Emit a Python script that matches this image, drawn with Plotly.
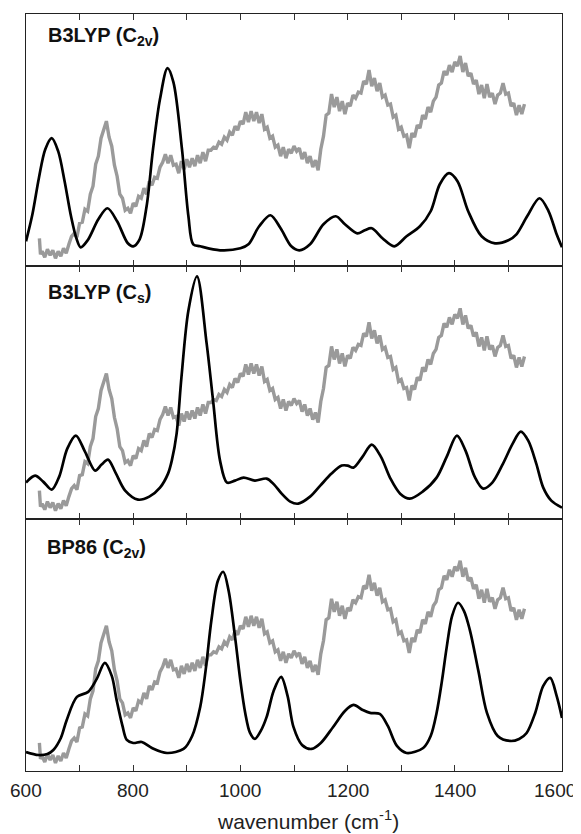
import plotly.graph_objects as go
from plotly.subplots import make_subplots

# Experimental spectrum (same in all panels), wavenumber / intensity (arb.)
exp_wn = [625, 627] + list(range(630, 1531, 5))
exp_int = [28, 12,
           15, 9, 17, 11, 16, 8, 15, 10, 18, 13, 22,
           30, 33, 29, 43, 44, 57, 55, 72, 80, 102, 110, 128, 136, 145,
           129, 120, 101, 90, 72, 68, 56, 58, 53, 63,
           60, 70, 68, 78, 72, 85, 81, 89, 88, 99,
           104, 112, 103, 111, 101, 102, 93, 105, 97, 107,
           99, 108, 100, 111, 103, 114, 105, 116, 116, 119,
           118, 124, 122, 129, 126, 134, 131, 140, 136, 145,
           142, 154, 144, 155, 145, 154, 143, 152, 137, 139,
           128, 130, 119, 121, 110, 119, 108, 117, 113, 120,
           115, 118, 107, 114, 103, 110, 99, 106, 96, 117,
           130, 151, 153, 172, 159, 169, 155, 165, 152, 163,
           160, 171, 168, 174, 173, 185, 182, 196, 180, 188,
           175, 183, 169, 171, 161, 162, 149, 151, 137, 139,
           130, 131, 118, 133, 129, 141, 138, 151, 147, 159,
           154, 165, 169, 181, 183, 195, 191, 201, 194, 204,
           200, 210, 194, 203, 190, 193, 182, 186, 172, 181,
           168, 182, 169, 173, 162, 171, 173, 183, 172, 173,
           160, 163, 151, 161, 152, 162]

# Calculated spectra
c2v_wn = [600, 612, 624, 636, 648, 660, 672, 684, 694, 702, 715, 735, 752, 770, 790, 800,
          812, 825, 837, 850, 864, 875, 891, 903, 912, 925, 962, 1000, 1015, 1035, 1056,
          1075, 1095, 1110, 1130, 1155, 1178, 1195, 1218, 1232, 1245, 1265, 1287, 1310,
          1335, 1355, 1372, 1389, 1405, 1425, 1450, 1475, 1500, 1515, 1535, 1558, 1575,
          1590, 1600]
c2v_int = [25, 52, 88, 117, 128, 115, 85, 50, 28, 19, 26, 47, 58, 45, 23, 20,
           27, 60, 117, 167, 198, 184, 117, 50, 22, 20, 16, 18, 22, 40, 51,
           38, 20, 16, 22, 42, 50, 42, 33, 36, 38, 28, 20, 30,
           40, 55, 82, 93, 85, 55, 30, 23, 26, 32, 50, 68, 55,
           32, 19]

cs_wn = [600, 617, 632, 648, 662, 677, 693, 710, 729, 741, 753, 767, 785, 809, 830, 850,
         865, 872, 881, 890, 903, 919, 937, 949, 962, 975, 990, 1006, 1027, 1049, 1063,
         1077, 1093, 1108, 1130, 1149, 1170, 1189, 1200, 1211, 1228, 1245, 1262, 1280,
         1298, 1316, 1340, 1366, 1385, 1404, 1420, 1437, 1453, 1470, 1490, 1508, 1523,
         1537, 1552, 1565, 1580, 1600]
cs_int = [36, 43, 37, 29, 42, 70, 83, 67, 48, 54, 59, 46, 28, 19, 22, 31,
          45, 58, 85, 141, 208, 242, 175, 118, 58, 36, 38, 41, 38, 40, 34,
          25, 17, 15, 22, 33, 45, 53, 53, 51, 62, 74, 62, 40,
          25, 20, 27, 41, 62, 83, 68, 42, 30, 36, 55, 75, 87,
          78, 55, 31, 18, 11]

bp86_wn = [600, 623, 640, 651, 665, 676, 695, 716, 732, 747, 760, 769, 780, 788, 800, 816,
           835, 863, 894, 910, 925, 935, 946, 958, 968, 978, 990, 1000, 1009, 1018, 1027,
           1038, 1049, 1062, 1076, 1088, 1099, 1115, 1133, 1150, 1173, 1195, 1211, 1228,
           1242, 1260, 1275, 1292, 1310, 1341, 1355, 1366, 1376, 1385, 1395, 1406, 1417,
           1428, 1444, 1460, 1480, 1503, 1520, 1534, 1550, 1565, 1578, 1590, 1600]
bp86_int = [19, 16, 17, 21, 33, 51, 74, 79, 92, 108, 95, 71, 45, 31, 28, 29,
            23, 18, 22, 35, 64, 100, 151, 190, 199, 180, 134, 90, 58, 38, 32,
            40, 54, 80, 94, 75, 44, 26, 22, 28, 44, 60, 66, 61,
            58, 57, 45, 25, 18, 23, 35, 58, 90, 124, 155, 168, 160,
            141, 100, 58, 35, 30, 32, 38, 58, 85, 93, 75, 53]

panel_labels = ["<b>B3LYP (C<sub>2v</sub>)</b>", "<b>B3LYP (C<sub>s</sub>)</b>",
                "<b>BP86 (C<sub>2v</sub>)</b>"]
tick_vals = list(range(600, 1601, 100))
label_vals = [600, 800, 1000, 1200, 1400, 1600]
label_text = ["600", "800", "1000", "1200", "1400", "1600"]
x_title = "wavenumber (cm<sup>-1</sup>)"

calc = [(c2v_wn, c2v_int), (cs_wn, cs_int), (bp86_wn, bp86_int)]

fig = make_subplots(rows=3, cols=1, shared_xaxes=True, vertical_spacing=0)

for i, (wn, inten) in enumerate(calc):
    row = i + 1
    fig.add_trace(go.Scatter(x=exp_wn, y=exp_int, mode="lines",
                             line=dict(color="#9a9a9a", width=3.4),
                             showlegend=False, hoverinfo="skip"), row=row, col=1)
    fig.add_trace(go.Scatter(x=wn, y=inten, mode="lines",
                             line=dict(color="black", width=2.7, shape="spline", smoothing=0.9),
                             showlegend=False), row=row, col=1)
    fig.update_xaxes(range=[600, 1600], tickvals=tick_vals,
                     ticks="inside", ticklen=6, tickwidth=1, tickcolor="#333",
                     showline=True, linecolor="#222", linewidth=1.3, mirror="ticks",
                     showgrid=False, zeroline=False, showticklabels=False,
                     row=row, col=1)
    fig.update_yaxes(range=[0, 252], showline=True, linecolor="#222", linewidth=1.3,
                     mirror=True, ticks="", showticklabels=False, showgrid=False,
                     zeroline=False, row=row, col=1)

# The page body adds an 8px margin; compensate so the plot lands where the reference has it
OFF = 8
W, H = 581 - OFF, 834 - OFF
L, R, T, B = 26 - OFF, 19, 14 - OFF, 63
pw, ph = W - L - R, H - T - B

def px_x(px):
    return (px - OFF - L) / pw

def px_y(py):
    return (H - B - (py - OFF)) / ph

# bottom-axis tick labels (placed on the bottom x axis scale)
for v, t in zip(label_vals, label_text):
    last = (v == label_vals[-1])
    fig.add_annotation(text=t, xref="x3", yref="paper", x=v, y=px_y(790),
                       xanchor=("right" if last else "center"), yanchor="middle",
                       showarrow=False, xshift=(16 if last else 0),
                       font=dict(family="Arial, Liberation Sans", size=19, color="#222"))

label_pos = [(46, 37), (46, 293.5), (45, 548)]
for text, (lx, ly) in zip(panel_labels, label_pos):
    fig.add_annotation(text=text, xref="paper", yref="paper", x=px_x(lx), y=px_y(ly),
                       xanchor="left", yanchor="middle", showarrow=False,
                       font=dict(family="Arial, Liberation Sans", size=20, color="#111"))

fig.add_annotation(text=x_title, xref="paper", yref="paper", x=px_x(308), y=px_y(820),
                   xanchor="center", yanchor="middle", showarrow=False,
                   font=dict(family="Arial, Liberation Sans", size=21, color="#222"))

fig.update_layout(width=W, height=H, margin=dict(l=L, r=R, t=T, b=B),
                  plot_bgcolor="white", paper_bgcolor="white", showlegend=False)

fig.write_html("out.html")
